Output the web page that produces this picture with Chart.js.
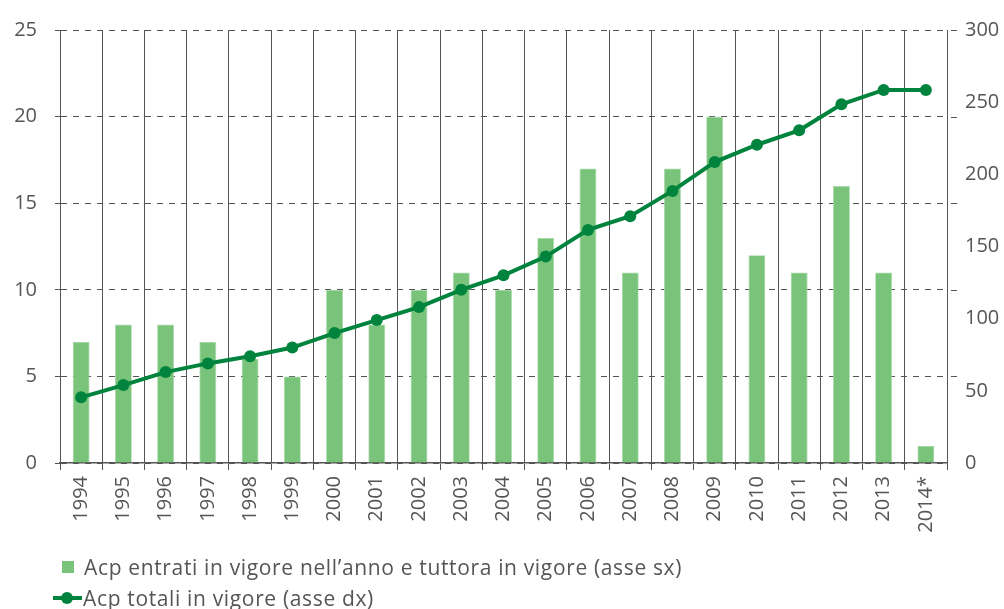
<!DOCTYPE html>
<html><head><meta charset="utf-8">
<script src="https://cdn.jsdelivr.net/npm/chart.js@4/dist/chart.umd.min.js"></script>
<style>
html,body{margin:0;padding:0;background:#fff;}
#wrap{position:relative;width:1004px;height:609px;}
canvas{position:absolute;left:0;top:0;}
.leg{position:absolute;font-family:"Open Sans",sans-serif;font-size:21px;letter-spacing:0.65px;color:#555;white-space:nowrap;line-height:26px;}
.box{position:absolute;width:12px;height:12px;background:#79c37a;}
.ln{position:absolute;height:4px;background:#00843d;}
.dot{position:absolute;width:12px;height:12px;border-radius:50%;background:#00843d;}
</style></head><body>
<div id="wrap">
<canvas id="c" width="1004" height="609"></canvas>
<div class="box" style="left:62px;top:561px"></div>
<div class="leg" style="left:84px;top:554px">Acp entrati in vigore nell’anno e tuttora in vigore (asse sx)</div>
<div class="ln" style="left:53px;top:596px;width:29px"></div>
<div class="dot" style="left:61px;top:592px"></div>
<div class="leg" style="left:83px;top:585px">Acp totali in vigore (asse dx)</div>
</div>
<script>
const categories = ["1994","1995","1996","1997","1998","1999","2000","2001","2002","2003","2004","2005","2006","2007","2008","2009","2010","2011","2012","2013","2014*"];
const acpEntrati = [7,8,8,7,6,5,10,8,10,11,10,13,17,11,17,20,12,11,16,11,1];
const acpTotali = [45.5,54,63,69,74,80,90,99,108,120,130,143,161.5,171,188.5,208.5,220.5,230.5,248.5,258.5,258.5];
const leftTicks = [0,5,10,15,20,25];
const rightTicks = [0,50,100,150,200,250,300];

const FONT = {family:"'Open Sans', sans-serif", size:20};
Chart.defaults.color = '#555';

new Chart(document.getElementById('c'), {
  data: {
    labels: categories,
    datasets: [
      {type:'line', label:'Acp totali in vigore (asse dx)', data:acpTotali, yAxisID:'y1',
       borderColor:'#00843d', backgroundColor:'#00843d', borderWidth:4, pointRadius:6,
       pointBackgroundColor:'#00843d', pointBorderWidth:0, tension:0, order:0},
      {type:'bar', label:'Acp entrati in vigore nell’anno e tuttora in vigore (asse sx)', data:acpEntrati, yAxisID:'y',
       backgroundColor:'#79c37a', borderColor:'#a6d8a6', borderWidth:0.8,
       barPercentage:0.4, categoryPercentage:1, order:1}
    ]
  },
  options: {
    responsive:false, animation:false,
    layout:{padding:{left:0,right:0,top:30,bottom:0}},
    plugins:{legend:{display:false}, tooltip:{enabled:false}},
    scales:{
      x:{
        offset:true,
        grid:{offset:true, color:'#555', lineWidth:1, tickLength:7, drawOnChartArea:true},
        border:{color:'#555', width:1.5},
        ticks:{font:FONT, color:'#555', maxRotation:90, minRotation:90, padding:6},
        afterFit:(s)=>{s.height = 609-463;}
      },
      y:{
        position:'left', min:0, max:25,
        afterBuildTicks:(s)=>{s.ticks = leftTicks.map(v=>({value:v}));},
        grid:{color:'#555', lineWidth:1, tickLength:5, drawOnChartArea:true},
        border:{display:true, color:'#555', width:1, dash:[6,6]},
        ticks:{font:FONT, color:'#555', padding:18},
        afterFit:(s)=>{s.width = 60;}
      },
      y1:{
        position:'right', min:0, max:300,
        afterBuildTicks:(s)=>{s.ticks = rightTicks.map(v=>({value:v}));},
        grid:{display:false, drawTicks:false, tickLength:0},
        border:{display:true, color:'#555', width:1},
        ticks:{font:FONT, color:'#555', padding:18},
        afterFit:(s)=>{s.width = 1004-947;}
      }
    }
  },
  plugins:[{
    id:'dashext',
    afterDraw(chart){
      // short dashed extension of the left-scale gridlines beyond the right border
      const ctx = chart.ctx, y = chart.scales.y, a = chart.chartArea;
      ctx.save();
      ctx.strokeStyle = '#555'; ctx.lineWidth = 1; ctx.setLineDash([6,6]);
      leftTicks.forEach(v=>{ if(v===0) return; const py = Math.round(y.getPixelForValue(v))+0.5;
        ctx.beginPath(); ctx.moveTo(a.right+4,py); ctx.lineTo(a.right+11,py); ctx.stroke(); });
      ctx.restore();
    }
  }]
});
</script>
</body></html>
